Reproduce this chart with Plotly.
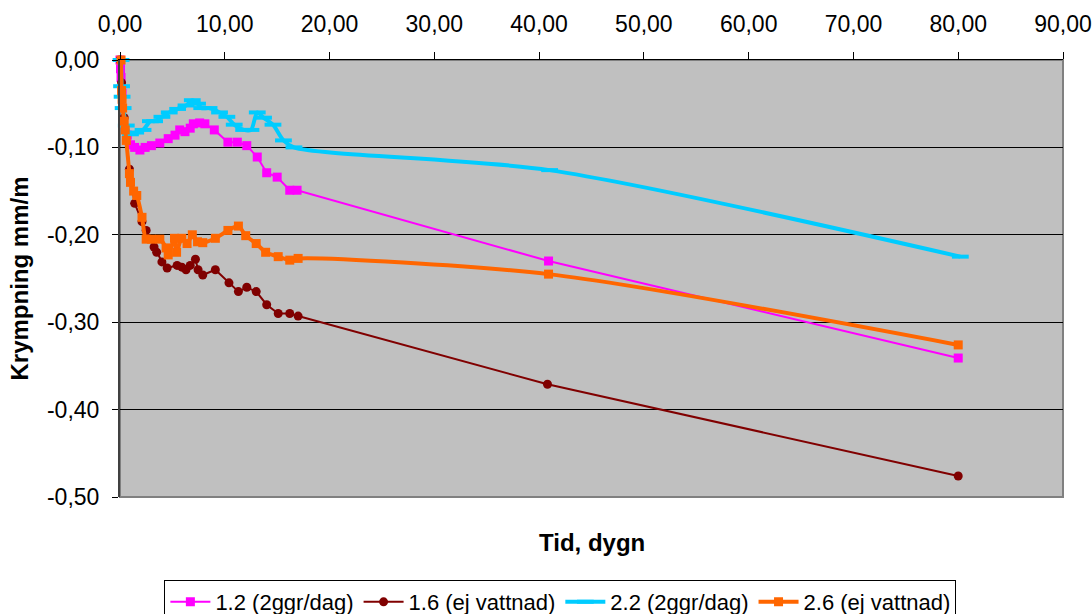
import plotly.graph_objects as go

# ---- data (days, shrinkage mm/m) ----
x_12 = [0, 0.05, 0.1, 0.2, 0.7, 1.0, 1.4, 1.9, 2.4, 3.0, 3.8, 4.6, 5.25, 5.7, 6.2, 6.7, 7.0, 7.6,
        8.1, 9.0, 10.3, 11.2, 12.1, 13.1, 14.0, 15.0, 16.2, 16.9, 40.9, 80.0]
y_12 = [0, -0.01, -0.02, -0.038, -0.086, -0.097, -0.1, -0.103, -0.1, -0.098, -0.095, -0.09, -0.086,
        -0.08, -0.082, -0.078, -0.073, -0.072, -0.073, -0.08, -0.094, -0.094, -0.098, -0.111, -0.129,
        -0.134, -0.149, -0.149, -0.23, -0.341]

x_16 = [0, 0.15, 0.4, 0.9, 1.4, 2.1, 2.5, 3.25, 3.5, 4.0, 4.5, 5.45, 5.9, 6.3, 6.7, 7.2, 7.45, 7.9,
        9.1, 10.4, 11.3, 12.1, 13.0, 14.0, 15.1, 16.2, 17.0, 40.8, 80.0]
y_16 = [0, -0.026, -0.066, -0.125, -0.164, -0.185, -0.195, -0.214, -0.22, -0.231, -0.238, -0.235,
        -0.237, -0.24, -0.235, -0.228, -0.24, -0.246, -0.24, -0.255, -0.265, -0.26, -0.265, -0.28,
        -0.29, -0.29, -0.293, -0.371, -0.476]

x_22 = [0.1, 0.15, 0.2, 0.3, 0.6, 1.0, 1.5, 2.2, 2.9, 3.3, 4.0, 4.7, 5.5, 6.3, 6.9, 7.4, 7.8, 8.5,
        9.5, 10.2, 10.9, 11.8, 12.5, 13.1, 13.7, 14.6, 15.6, 16.6, 41.0, 80.2]
y_22 = [0, -0.03, -0.042, -0.055, -0.075, -0.085, -0.083, -0.08, -0.07, -0.07, -0.065, -0.06, -0.056,
        -0.052, -0.046, -0.05, -0.055, -0.055, -0.06, -0.065, -0.074, -0.08, -0.08, -0.06, -0.066,
        -0.074, -0.092, -0.1, -0.126, -0.225]

x_26 = [0.1, 0.15, 0.2, 0.25, 0.4, 0.5, 0.6, 0.9, 1.0, 1.3, 1.6, 2.1, 2.5, 3.0, 3.8, 4.4, 4.6, 5.2,
        5.4, 5.9, 6.4, 6.9, 7.4, 7.9, 9.1, 10.3, 11.3, 12.0, 13.0, 13.9, 15.1, 16.2, 17.0, 40.9, 80.0]
y_26 = [0, -0.035, -0.045, -0.055, -0.07, -0.08, -0.092, -0.13, -0.14, -0.15, -0.155, -0.18, -0.205,
        -0.205, -0.205, -0.215, -0.223, -0.204, -0.22, -0.204, -0.21, -0.2, -0.208, -0.209, -0.204,
        -0.195, -0.19, -0.201, -0.21, -0.22, -0.225, -0.229, -0.227, -0.245, -0.326]

x_tickvals = [0, 10, 20, 30, 40, 50, 60, 70, 80, 90]
x_ticktext = ["0,00", "10,00", "20,00", "30,00", "40,00", "50,00", "60,00", "70,00", "80,00", "90,00"]
y_tickvals = [0, -0.1, -0.2, -0.3, -0.4, -0.5]
y_ticktext = ["0,00", "-0,10", "-0,20", "-0,30", "-0,40", "-0,50"]

FONT = "Liberation Sans, Arial, sans-serif"

fig = go.Figure()
fig.add_trace(go.Scatter(x=x_12, y=y_12, name="1.2 (2ggr/dag)", mode="lines+markers",
                         line=dict(color="#FF00FF", width=2),
                         marker=dict(symbol="square", size=9, color="#FF00FF"), cliponaxis=False))
fig.add_trace(go.Scatter(x=x_16, y=y_16, name="1.6 (ej vattnad)", mode="lines+markers",
                         line=dict(color="#800000", width=2),
                         marker=dict(symbol="circle", size=9, color="#800000"), cliponaxis=False))
fig.add_trace(go.Scatter(x=x_22, y=y_22, name="2.2 (2ggr/dag)", mode="lines+markers",
                         line=dict(color="#00CCFF", width=4, shape="spline", smoothing=0.8),
                         marker=dict(symbol="line-ew", size=12, color="#00CCFF",
                                     line=dict(color="#00CCFF", width=4)), cliponaxis=False))
fig.add_trace(go.Scatter(x=x_26, y=y_26, name="2.6 (ej vattnad)", mode="lines+markers",
                         line=dict(color="#FF6600", width=4, shape="spline", smoothing=0.8),
                         marker=dict(symbol="square", size=9, color="#FF6600"), cliponaxis=False))

fig.update_layout(
    width=1092, height=614,
    margin=dict(l=120, r=29, t=60, b=117, autoexpand=False),
    paper_bgcolor="white", plot_bgcolor="#C0C0C0",
    font=dict(family=FONT, size=22, color="black"),
    showlegend=True,
    legend=dict(orientation="h", x=0.467, xanchor="center", y=-0.19, yanchor="top",
                bordercolor="black", borderwidth=1, bgcolor="white",
                font=dict(family=FONT, size=22), itemwidth=40, tracegroupgap=0),
    xaxis=dict(side="top", range=[0, 90], tickvals=x_tickvals, ticktext=x_ticktext,
               showgrid=False, zeroline=False, ticks="outside", ticklen=7, tickcolor="black",
               showline=True, linecolor="black", linewidth=1, ticklabelstandoff=11,
               tickfont=dict(size=23), automargin=False),
    yaxis=dict(range=[-0.5, 0], tickvals=y_tickvals, ticktext=y_ticktext,
               showgrid=True, gridcolor="black", gridwidth=1, zeroline=False,
               ticks="outside", ticklen=6, tickcolor="black",
               showline=True, linecolor="#404040", linewidth=2, ticklabelstandoff=8,
               tickfont=dict(size=23), automargin=False,
               title=dict(text="<b>Krympning mm/m</b>", font=dict(size=24), standoff=12)),
    shapes=[dict(type="rect", xref="paper", yref="paper", x0=0, x1=1, y0=0, y1=1,
                 line=dict(color="#808080", width=2), layer="below")],
    annotations=[dict(text="<b>Tid, dygn</b>", xref="paper", yref="paper", x=0.5, y=-0.103,
                      xanchor="center", yanchor="middle", showarrow=False, font=dict(size=24))],
)

fig.write_html("out.html")
